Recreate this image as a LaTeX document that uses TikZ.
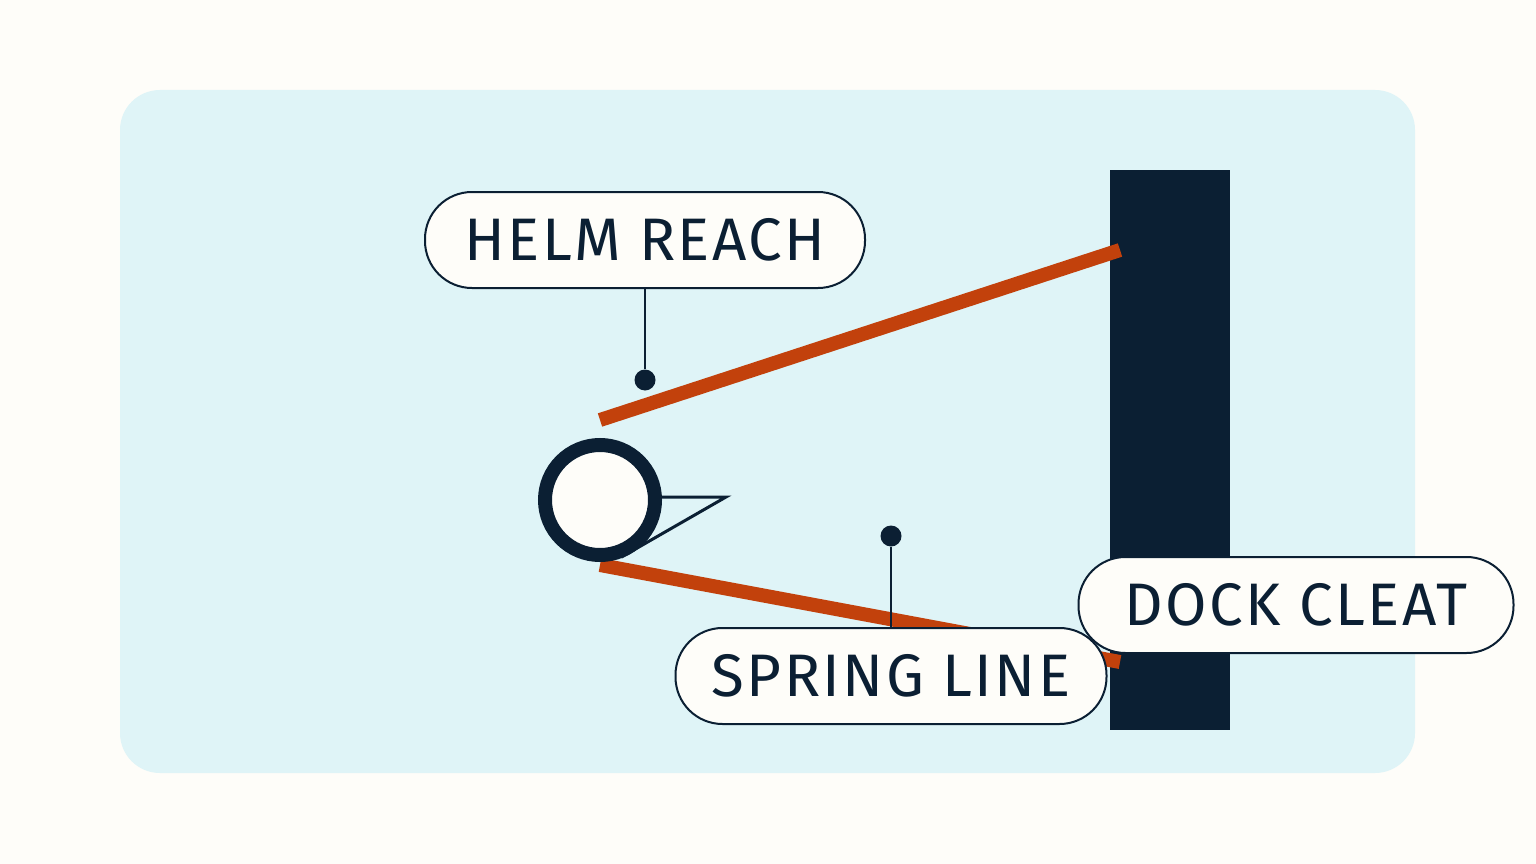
\documentclass[tikz,border=0pt]{standalone}
\usepackage{fontspec}
\setmainfont{Fira Sans}
\definecolor{bg}{HTML}{FEFDF9}
\definecolor{panel}{HTML}{DFF4F7}
\definecolor{ink}{HTML}{0B1F33}
\definecolor{rope}{HTML}{C2410C}
\begin{document}
\begin{tikzpicture}[x=1pt,y=-1pt,
  lab/.style={draw=ink,line width=2pt,fill=bg,rounded corners=47pt,minimum height=96pt,inner xsep=20pt,text=ink,font=\fontsize{60}{60}\selectfont\addfontfeature{LetterSpace=4}},
  ropel/.style={rope,line width=14pt},
  lead/.style={ink,line width=2.5pt},
  dot/.style={circle,fill=ink,minimum size=21pt,inner sep=0pt}]
\useasboundingbox (0,0) rectangle (1536,864);
\fill[bg] (0,0) rectangle (1536,864);
\fill[panel,rounded corners=40pt] (120,90) rectangle (1415,773);
\fill[ink] (1110,170) rectangle (1230,730);
\coordinate (r1a) at (600,420); \coordinate (r1b) at (1120,250);
\coordinate (r2a) at (600,565); \coordinate (r2b) at (1120,662);
\draw[ropel] (r1a) -- (r1b);
\draw[ropel] (r2a) -- (r2b);
\draw[ink,line width=3pt,fill=panel] (650,497) -- (726,497) -- (625,555) -- cycle;
\node[circle,draw=ink,line width=14pt,fill=bg,minimum size=110pt,inner sep=0pt] (boat) at (600,500) {};
\node[dot] (d1) at (645,380) {};
\node[dot] (d2) at (891,536) {};
\node[lab,minimum width=440pt] (helm) at (645,240) {HELM REACH};
\draw[lead] (helm.south) -- (d1);
\node[lab,minimum width=431pt] (spring) at (891,676) {SPRING LINE};
\draw[lead] (spring.north) -- (d2);
\node[lab,minimum width=435pt] (cleat) at (1296,605) {DOCK CLEAT};
\end{tikzpicture}
\end{document}
